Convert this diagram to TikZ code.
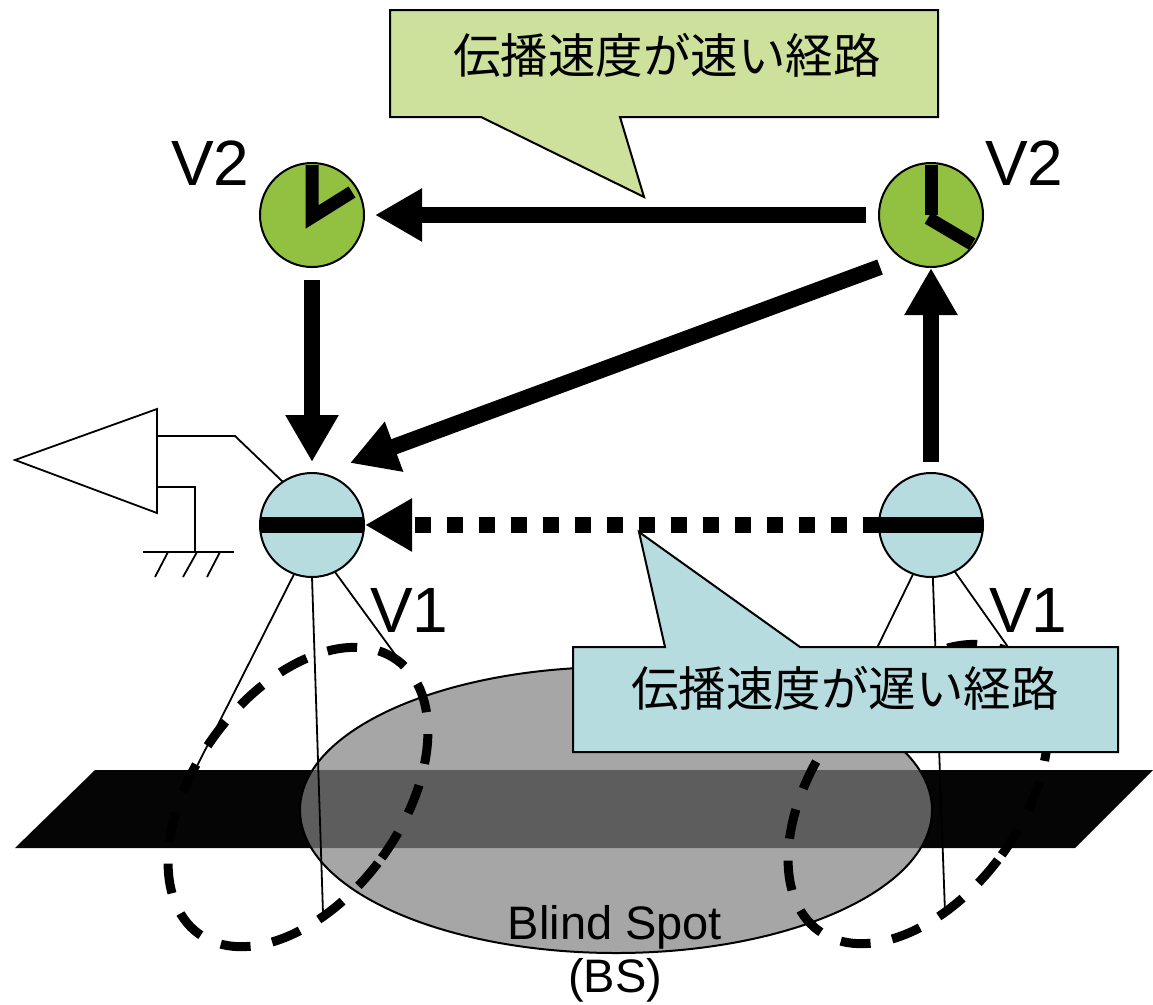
\documentclass[tikz,border=0pt]{standalone}
\usepackage{fontspec}
\setmainfont{Liberation Sans}
\newfontfamily\jpfont{Noto Sans CJK JP}
\usetikzlibrary{arrows.meta,calc}
\definecolor{clockgreen}{RGB}{146,192,64}
\definecolor{sensorblue}{RGB}{183,220,224}
\definecolor{notegreen}{RGB}{205,224,156}
\begin{document}
\begin{tikzpicture}[x=1pt,y=-1pt,
  clock/.style={circle,draw,line width=2pt,fill=clockgreen,minimum size=104pt,inner sep=0pt,outer sep=0pt},
  sensor/.style={circle,draw,line width=2pt,fill=sensorblue,minimum size=104pt,inner sep=0pt,outer sep=0pt},
  hand/.style={line width=13pt,line join=miter},
  bar/.style={line width=16pt},
  ray/.style={line width=16pt,-{Triangle[length=47pt,width=50pt]}},
  slowray/.style={ray,dash pattern=on 16pt off 16pt},
  wire/.style={line width=1.8pt},
  zone/.style={line width=9pt,dash pattern=on 30pt off 22pt},
  note/.style={draw,line width=2pt},
  lbl/.style={font=\fontsize{64}{72}\selectfont,inner sep=0pt,anchor=base west},
  jp/.style={font=\jpfont\fontsize{47.5}{52}\selectfont,inner sep=0pt},
  bstext/.style={font=\fontsize{47}{52}\selectfont,inner sep=0pt,anchor=base},
]
\useasboundingbox (0,0) rectangle (1153,1004);

% ground layer and the blind spot
\fill[black!98] (15,848) -- (95,770) -- (1153,770) -- (1075,848) -- cycle;
\draw[line width=2pt,fill=black!49,fill opacity=0.71] (616,810) ellipse [x radius=316pt, y radius=143pt];

% sensing zones below the sensors
\draw[zone,rotate around={-36:(298,797)}] (298,797) ellipse [x radius=103.5pt, y radius=169pt];
\draw[zone,rotate around={-36:(918,794)}] (918,794) ellipse [x radius=103.5pt, y radius=169pt];

% sensors (V1) and clocks (V2)
\node[sensor] (v1L) at (312,525) {};
\node[sensor] (v1R) at (931,525) {};
\node[clock] (c1) at (312,215) {};
\node[clock] (c2) at (931,215) {};

% sensor legs
\draw[wire] (v1L.250) -- (195,770);
\draw[wire] (v1L.270) -- (323,913);
\draw[wire] (v1L.296) -- (397,657);
\draw[wire] (v1R.250) -- (877,648);
\draw[wire] (v1R.272) -- (945,912);
\draw[wire] (v1R.297) -- (1008,647);

% sensor bars
\draw[bar] (v1L.west) -- (v1L.east);
\draw[bar] (v1R.west) -- (v1R.east);

% clock hands
\draw[hand] (312,165) -- (312,217) -- (352,192);
\draw[hand] (931,165) -- (931,215);
\draw[hand] (928,218) -- (972,244);

% amplifier with ground
\draw[wire] (15,460) -- (157,409) -- (157,513) -- cycle;
\draw[wire] (157,436) -- (235,436) -- (v1L.124);
\draw[wire] (157,487) -- (195,487) -- (195,552);
\draw[wire] (143,552) -- (234,552);
\draw[wire] (168,552) -- (155,577);
\draw[wire] (197,552) -- (183,577);
\draw[wire] (220,552) -- (207,577);

% propagation paths
\draw[ray,shorten <=13pt,shorten >=11pt] (c2.west) -- (c1.east);
\draw[ray,shorten <=13pt,shorten >=11pt] (c1.south) -- (v1L.north);
\draw[ray,shorten <=11pt,shorten >=1pt] (v1R.north) -- (c2.south);
\draw[ray] ($(c2.center)+(-51,52)$) -- ($(v1L.center)+(38,-62)$);
\draw[slowray,shorten >=1pt] (v1R.west) -- (v1L.east);

% labels
\node[lbl] (v2a) at (171,185) {V2};
\node[lbl] (v2b) at (985,185) {V2};
\node[lbl] (v1a) at (370,632) {V1};
\node[lbl] (v1b) at (989,632) {V1};

% callouts
\draw[note,fill=notegreen] (390,10) -- (938,10) -- (938,117) -- (620,117) -- (644,197) -- (481,117) -- (390,117) -- cycle;
\node[jp] (fast) at (667,55) {伝播速度が速い経路};
\draw[note,fill=sensorblue] (573,647) -- (665,647) -- (639,532) -- (800,647) -- (1118,647) -- (1118,752) -- (573,752) -- cycle;
\node[jp] (slow) at (845,688) {伝播速度が遅い経路};

% blind spot caption
\node[bstext] (bs1) at (615,939) {Blind Spot};
\node[bstext] (bs2) at (615,992) {(BS)};
\end{tikzpicture}
\end{document}
